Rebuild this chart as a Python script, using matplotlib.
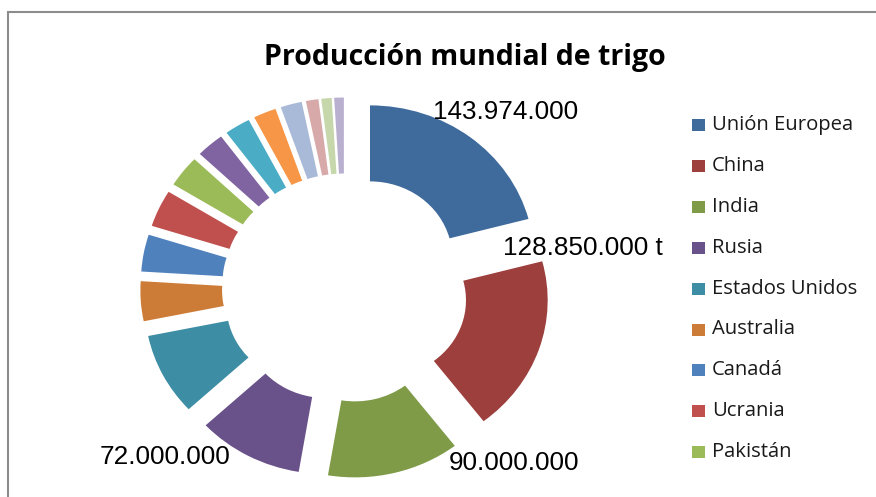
import matplotlib
matplotlib.use("Agg")
import matplotlib.pyplot as plt
from matplotlib.patches import Rectangle

# produccion de trigo (millones de t); solo los 9 primeros salen en la leyenda
paises = ["Unión Europea", "China", "India", "Rusia", "Estados Unidos",
          "Australia", "Canadá", "Ucrania", "Pakistán"]
produccion = [143.974, 128.85, 90.0, 72.0, 60.0, 29.0, 27.0, 27.0, 23.0,
              19.0, 17.5, 15.5, 14.5, 8.5, 7.0, 6.5]
etiquetas = ["143.974.000", "128.850.000 t", "90.000.000", "72.000.000"]

colores = ["#3E6A9C", "#9C3F3D", "#7F9B48", "#69518A", "#3D8DA4", "#CD7C38",
           "#4F81BD", "#C0504D", "#9BBB59", "#8064A2", "#4BACC6", "#F79646",
           "#A9BAD8", "#D7A9A8", "#C6D7AC", "#B9B0CF"]

W, H = 876, 497
sx = 1.075  # el original esta algo estirado en horizontal

fig = plt.figure(figsize=(W / 100, H / 100), dpi=100)
ax = fig.add_axes([0, 0, 1, 1])

ax.pie(produccion, colors=colores, startangle=90, counterclock=False,
       center=(321, 209), radius=152.5, explode=[38] * len(produccion),
       wedgeprops=dict(width=76, linewidth=0), frame=False)
ax.set_aspect("auto")
ax.set_xlim(0, W / sx)
ax.set_ylim(0, H)
ax.axis("off")

# marco gris del grafico
ax.add_patch(Rectangle((8 / sx, -20), 1000, H - 12 + 20, fill=False,
                       edgecolor="#8C8C8C", linewidth=1.5, clip_on=False))

ax.text(465 / sx, H - 57, "Producción mundial de trigo", ha="center", va="center",
        fontsize=20.5, fontweight="bold", family="Open Sans", color="#000000")

# etiquetas de datos (x izquierda, y centro en pixeles)
pos_etq = [(433, 112), (503, 248), (449, 463), (100, 457)]
clip = Rectangle((0, H - 470), W, 470, transform=ax.transData)
for txt, (px, py) in zip(etiquetas, pos_etq):
    t = ax.text(px / sx, H - py, txt, ha="left", va="center", fontsize=18.8,
                family="Liberation Sans", color="#000000")
    t.set_clip_path(clip)

# leyenda
for i, nombre in enumerate(paises):
    y = H - (125 + i * 40.9)
    ax.add_patch(Rectangle((692 / sx, y - 6), 13 / sx, 12, facecolor=colores[i],
                           edgecolor="none"))
    ax.text(712 / sx, y, nombre, ha="left", va="center", fontsize=14.6,
            family="Open Sans", color="#1A1A1A")

fig.savefig("out.png", dpi=100)
